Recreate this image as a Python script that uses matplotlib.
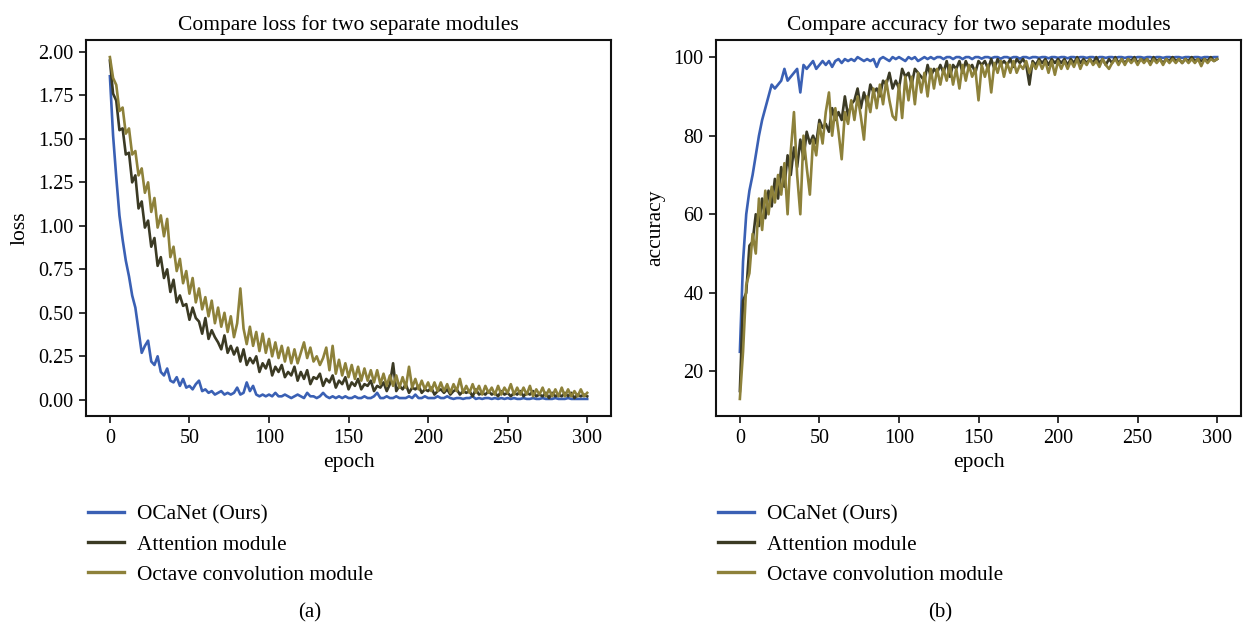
"""
Recreate the loss / accuracy comparison figure for OCaNet vs the two separate modules.
"""
import numpy as np
import matplotlib
matplotlib.use("Agg")
import matplotlib.pyplot as plt

plt.rcParams['font.family'] = ['Liberation Serif', 'DejaVu Serif']

# every second epoch, 0 ... 300
epochs = np.arange(0, 301, 2)

series_names = ["OCaNet (Ours)", "Attention module", "Octave convolution module"]
series_colors = ["#3a60b4", "#3b3a24", "#8d813a"]

# ---- loss values ----
loss_ocanet = [
    1.86, 1.52, 1.28, 1.06, 0.92, 0.80, 0.71, 0.60, 0.53, 0.40,
    0.27, 0.31, 0.34, 0.22, 0.20, 0.25, 0.16, 0.14, 0.18, 0.11,
    0.10, 0.13, 0.08, 0.12, 0.07, 0.08, 0.06, 0.09, 0.11, 0.05,
    0.06, 0.04, 0.05, 0.03, 0.04, 0.05, 0.03, 0.04, 0.03, 0.04,
    0.07, 0.03, 0.04, 0.10, 0.05, 0.08, 0.03, 0.02, 0.03, 0.02,
    0.03, 0.02, 0.04, 0.02, 0.02, 0.03, 0.02, 0.01, 0.02, 0.03,
    0.02, 0.01, 0.04, 0.02, 0.02, 0.01, 0.02, 0.04, 0.02, 0.01,
    0.02, 0.01, 0.02, 0.01, 0.02, 0.01, 0.01, 0.02, 0.01, 0.01,
    0.02, 0.01, 0.01, 0.02, 0.04, 0.01, 0.01, 0.02, 0.01, 0.01,
    0.02, 0.01, 0.01, 0.01, 0.02, 0.01, 0.03, 0.01, 0.01, 0.02,
    0.01, 0.01, 0.01, 0.02, 0.01, 0.01, 0.02, 0.01, 0.005, 0.01,
    0.01, 0.005, 0.01, 0.01, 0.02, 0.005, 0.01, 0.005, 0.01, 0.01,
    0.005, 0.01, 0.005, 0.01, 0.005, 0.01, 0.005, 0.01, 0.005, 0.005,
    0.01, 0.005, 0.005, 0.01, 0.005, 0.005, 0.01, 0.005, 0.005, 0.005,
    0.01, 0.005, 0.005, 0.005, 0.01, 0.005, 0.005, 0.005, 0.005, 0.005,
    0.005,
]
loss_attention = [
    1.95, 1.76, 1.72, 1.55, 1.56, 1.41, 1.42, 1.25, 1.29, 1.10,
    1.14, 0.99, 1.03, 0.88, 0.93, 0.77, 0.82, 0.70, 0.75, 0.62,
    0.69, 0.56, 0.60, 0.54, 0.55, 0.46, 0.53, 0.47, 0.45, 0.38,
    0.47, 0.35, 0.40, 0.36, 0.33, 0.29, 0.37, 0.27, 0.31, 0.26,
    0.30, 0.22, 0.29, 0.20, 0.24, 0.21, 0.25, 0.16, 0.21, 0.18,
    0.23, 0.14, 0.19, 0.16, 0.20, 0.13, 0.16, 0.14, 0.19, 0.11,
    0.16, 0.12, 0.17, 0.09, 0.13, 0.12, 0.15, 0.08, 0.12, 0.10,
    0.14, 0.07, 0.11, 0.09, 0.13, 0.06, 0.10, 0.08, 0.12, 0.06,
    0.09, 0.08, 0.11, 0.05, 0.08, 0.07, 0.10, 0.05, 0.09, 0.21,
    0.05, 0.08, 0.06, 0.09, 0.04, 0.07, 0.06, 0.08, 0.04, 0.06,
    0.05, 0.07, 0.03, 0.05, 0.06, 0.04, 0.06, 0.03, 0.05, 0.06,
    0.03, 0.05, 0.04, 0.05, 0.02, 0.06, 0.03, 0.04, 0.03, 0.05,
    0.03, 0.04, 0.02, 0.05, 0.03, 0.04, 0.02, 0.04, 0.03, 0.05,
    0.02, 0.04, 0.03, 0.05, 0.02, 0.03, 0.02, 0.04, 0.01, 0.04,
    0.02, 0.03, 0.02, 0.04, 0.02, 0.04, 0.01, 0.03, 0.02, 0.03,
    0.02,
]
loss_octave = [
    1.97, 1.85, 1.81, 1.66, 1.68, 1.53, 1.56, 1.41, 1.43, 1.29,
    1.33, 1.19, 1.25, 1.08, 1.16, 0.99, 1.06, 0.94, 1.04, 0.82,
    0.88, 0.74, 0.81, 0.67, 0.74, 0.61, 0.70, 0.56, 0.64, 0.52,
    0.59, 0.48, 0.57, 0.44, 0.53, 0.42, 0.50, 0.39, 0.48, 0.36,
    0.44, 0.64, 0.41, 0.32, 0.42, 0.31, 0.39, 0.28, 0.38, 0.27,
    0.35, 0.25, 0.33, 0.24, 0.31, 0.22, 0.30, 0.21, 0.29, 0.21,
    0.27, 0.33, 0.24, 0.30, 0.22, 0.25, 0.20, 0.24, 0.30, 0.17,
    0.31, 0.15, 0.23, 0.14, 0.21, 0.13, 0.20, 0.12, 0.19, 0.11,
    0.18, 0.11, 0.17, 0.10, 0.17, 0.09, 0.15, 0.08, 0.14, 0.08,
    0.14, 0.07, 0.13, 0.07, 0.19, 0.07, 0.12, 0.06, 0.11, 0.06,
    0.10, 0.05, 0.10, 0.05, 0.10, 0.05, 0.09, 0.04, 0.09, 0.05,
    0.12, 0.04, 0.08, 0.04, 0.09, 0.04, 0.08, 0.03, 0.08, 0.04,
    0.07, 0.03, 0.08, 0.03, 0.07, 0.04, 0.09, 0.03, 0.07, 0.03,
    0.07, 0.03, 0.08, 0.02, 0.06, 0.03, 0.07, 0.02, 0.06, 0.02,
    0.06, 0.02, 0.07, 0.02, 0.06, 0.02, 0.05, 0.02, 0.06, 0.02,
    0.04,
]

# ---- accuracy values ----
acc_ocanet = [
    25, 48, 60, 66, 70, 75, 80, 84, 87, 90,
    93, 92, 93, 94, 97, 94, 95, 96, 97, 91,
    98, 97, 98, 99, 97, 98, 99, 98, 99, 97.5,
    99, 99.5, 98.5, 99.5, 99, 99.5, 99, 100, 99.5, 99,
    99.5, 99, 99.5, 97.5, 99.5, 100, 99.5, 99, 100, 99.5,
    100, 99.5, 99, 100, 99.5, 100, 99, 99.5, 100, 99.5,
    100, 99.5, 100, 100, 99.5, 100, 100, 99.5, 100, 100,
    99.5, 100, 100, 99.5, 100, 100, 99.6, 100, 100, 99.7,
    100, 100, 99.6, 100, 100, 99.7, 100, 100, 99.6, 100,
    100, 99.7, 100, 100, 99.8, 100, 100, 99.7, 100, 100,
    99.8, 100, 100, 99.7, 100, 100, 99.8, 100, 100, 99.8,
    100, 100, 99.7, 100, 100, 99.8, 100, 100, 99.8, 100,
    100, 99.8, 100, 100, 99.8, 100, 100, 99.8, 100, 100,
    99.8, 100, 100, 99.8, 100, 100, 99.9, 100, 100, 99.8,
    100, 100, 99.9, 100, 100, 99.8, 100, 100, 99.9, 100,
    100,
]
acc_attention = [
    15, 38, 40, 52, 53, 60, 57, 64, 59, 66,
    62, 69, 64, 72, 67, 75, 70, 77, 72, 79,
    74, 81, 78, 80, 78, 84, 82, 83, 81, 87,
    84, 86, 84, 90, 85, 88, 89, 92, 87, 91,
    88, 93, 91, 92, 90, 94, 93, 96, 92, 94,
    92, 97, 95, 96, 93, 97, 96, 95, 94, 98,
    95, 97, 96, 98, 96, 99, 95, 98, 97, 99,
    96, 99, 97, 98, 96, 99, 98, 99, 97, 99.5,
    97, 99.5, 98, 99, 98, 99.5, 97.5, 99.5, 98.5, 99.5,
    98, 93, 99, 98, 99.5, 98.5, 99.5, 98, 99.5, 98.5,
    99.5, 98.5, 99.5, 98, 99.5, 98.5, 100, 98.5, 99.5, 98.5,
    99.5, 98.5, 100, 98.5, 99.5, 98, 99.5, 98.5, 100, 98.5,
    99.5, 98.5, 99.5, 99, 100, 98.5, 99.5, 99, 99.5, 98.5,
    100, 99, 99.5, 98.5, 99.5, 99, 100, 99, 99.5, 98.5,
    99.5, 99, 100, 99, 99.5, 99, 99.5, 99, 100, 99,
    99.5,
]
acc_octave = [
    13, 25, 42, 45, 55, 50, 64, 56, 66, 60,
    67, 63, 70, 65, 73, 60, 76, 86, 70, 60,
    80, 72, 65, 79, 75, 83, 78, 86, 91, 80,
    87, 81, 74, 86, 83, 89, 84, 90, 85, 79,
    90, 86, 92, 87, 93, 88, 94, 89, 85, 84,
    93, 84.5, 95, 89, 95, 88, 96, 91, 96, 90,
    97, 92, 97, 93, 97, 94, 98, 93, 97, 92,
    98, 94, 98, 95, 97, 89, 98, 95, 98, 91,
    98.5, 96, 99, 95, 98.5, 96, 99, 96, 98, 97,
    99, 96, 98.5, 97, 99, 97, 99, 96, 99, 95.5,
    99, 97, 99, 97, 99, 97.5, 99.5, 97, 99, 98,
    99.5, 98, 99, 97.5, 99.5, 98, 97, 98.5, 99.5, 98,
    99.5, 98, 99.5, 98.5, 99.5, 98, 99.5, 98.5, 99.5, 98,
    99.5, 98.5, 99.5, 98, 99.5, 98.5, 99.5, 98.5, 99.5, 98.5,
    99.5, 98.5, 99.5, 98.5, 99.5, 97.7, 99.5, 98.5, 99.5, 99,
    99.5,
]

for arr in [loss_ocanet, loss_attention, loss_octave, acc_ocanet, acc_attention, acc_octave]:
    assert len(arr) == len(epochs), len(arr)


def draw_panel(ax, curves, title, ylabel, yticks, yfmt):
    for y, name, clr in zip(curves, series_names, series_colors):
        ax.plot(epochs, y, color=clr, linewidth=1.9, label=name)
    ax.set_title(title, fontsize=15.5, pad=7)
    ax.set_xlabel("epoch", fontsize=15.5, labelpad=4)
    ax.set_ylabel(ylabel, fontsize=15.5, labelpad=6)
    ax.set_xticks([0, 50, 100, 150, 200, 250, 300])
    ax.set_yticks(yticks)
    ax.set_yticklabels([yfmt % v for v in yticks])
    ax.tick_params(labelsize=14.5, width=1.2, length=5, pad=4, color="#111111")
    for sp in ax.spines.values():
        sp.set_linewidth(1.5)
        sp.set_color("#111111")
    leg = ax.legend(loc="upper left", bbox_to_anchor=(-0.032, -0.185), frameon=False,
                    fontsize=15.3, handlelength=1.7, handletextpad=0.6, labelspacing=0.48)
    for ln in leg.get_lines():
        ln.set_linewidth(2.4)


fig = plt.figure(figsize=(12.45, 6.27), dpi=100)
ax1 = fig.add_axes([0.0691, 0.3365, 0.4217, 0.5997])
ax2 = fig.add_axes([0.5751, 0.3365, 0.4217, 0.5997])

draw_panel(ax1, [loss_ocanet, loss_attention, loss_octave],
           "Compare loss for two separate modules", "loss",
           [0.0, 0.25, 0.5, 0.75, 1.0, 1.25, 1.5, 1.75, 2.0], "%.2f")
draw_panel(ax2, [acc_ocanet, acc_attention, acc_octave],
           "Compare accuracy for two separate modules", "accuracy",
           [20, 40, 60, 80, 100], "%d")

fig.text(0.249, 0.022, "(a)", fontsize=15, ha="center", va="center")
fig.text(0.755, 0.022, "(b)", fontsize=15, ha="center", va="center")

fig.savefig("out.png", dpi=100)
